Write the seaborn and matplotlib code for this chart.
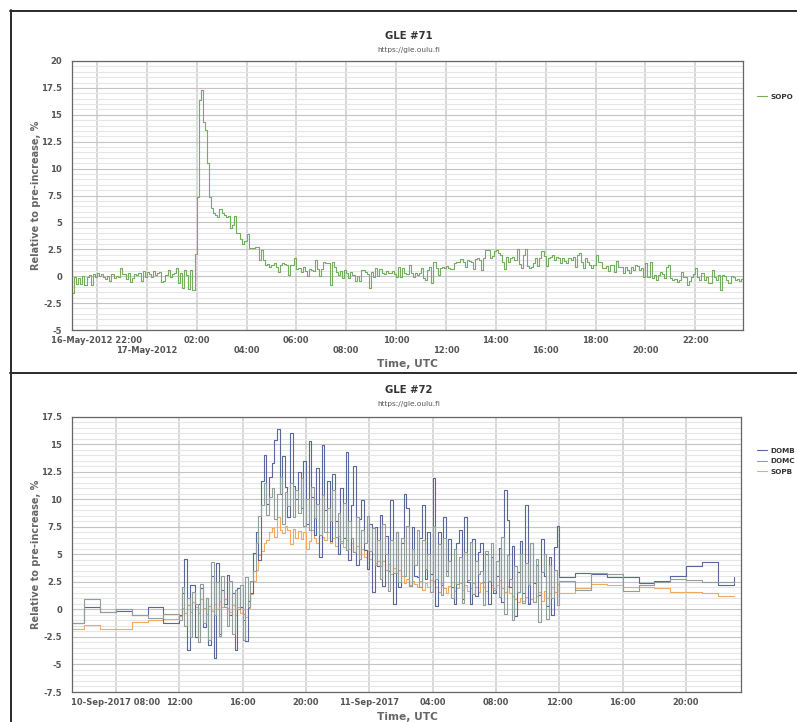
import pandas as pd
import matplotlib
matplotlib.use("Agg")
import matplotlib.pyplot as plt
from matplotlib.ticker import MultipleLocator, FuncFormatter, FixedLocator, FixedFormatter
from matplotlib.lines import Line2D
import matplotlib.dates as mdates
import seaborn as sns

# ---------------- GLE #71 : SOPO, 5-minute values from 16-May-2012 21:00 ----------------
sopo_start = "2012-05-16 21:00"
sopo_pct = [
    -1.6, -0.1, -0.7, -0.2, -0.7, 0.0, -0.8, -0.1, 0.1, -0.8, 0.2, -0.1,
    0.3, 0.0, 0.2, -0.1, -0.3, 0.0, -0.4, 0.2, -0.2, 0.0, -0.1, 0.8,
    0.2, 0.2, -0.3, 0.3, -0.5, -0.2, 0.2, 0.1, 0.3, -0.4, 0.5, -0.1,
    0.4, 0.2, -0.1, 0.5, 0.1, 0.3, 0.4, -0.5, -0.4, 0.1, 0.6, -0.1,
    0.2, 0.3, 0.8, -0.6, 0.3, -1.1, 0.6, 0.1, -1.2, 0.6, -1.3, 2.1,
    7.4, 16.4, 17.3, 14.3, 13.6, 10.5, 7.4, 6.3, 5.9, 5.7, 5.5, 6.2,
    5.9, 5.7, 5.5, 5.6, 4.5, 4.8, 5.6, 4.0, 4.0, 3.5, 3.0, 3.3,
    3.9, 2.6, 2.6, 2.6, 2.7, 2.7, 1.5, 2.4, 1.5, 1.0, 1.1, 0.9,
    1.0, 1.2, 0.9, 0.4, 1.0, 1.2, 1.1, 1.0, 0.1, 1.0, 1.0, 1.7,
    0.7, 0.8, 0.4, 0.9, 0.5, 0.0, 0.7, 0.6, 0.5, 1.5, 0.7, 0.0,
    0.7, 1.3, 1.2, 1.2, -0.8, 1.3, 0.9, 0.4, 0.1, 0.5, -0.2, 0.6,
    0.3, -0.2, 0.4, 0.1, -0.4, 0.0, -0.4, 0.6, 0.6, 0.4, 0.2, -1.1,
    0.4, -0.1, 0.8, 0.0, 0.7, 0.3, 0.2, 0.5, 0.3, 0.3, 0.5, 0.2,
    -0.05, 0.89, -0.05, 0.73, 0.27, 0.2, 1.0, 0.27, -0.05, 0.27, 0.11, 0.3,
    0.73, -0.2, -0.36, 0.58, 0.89, -0.67, 1.35, 0.73, 0.11, 0.79, 0.89, 0.8,
    0.98, 0.79, 0.67, 0.67, 1.2, 1.29, 1.29, 1.6, 1.35, 0.89, 1.5, 1.4,
    1.35, 0.67, 1.6, 1.66, 1.5, 0.58, 1.66, 2.43, 2.43, 1.66, 1.91, 2.3,
    2.4, 2.2, 2.0, 1.35, 0.7, 1.8, 1.35, 1.7, 1.8, 1.5, 2.5, 1.1,
    0.79, 1.97, 2.53, 0.98, 0.79, 0.89, 1.2, 1.72, 0.98, 1.66, 2.34, 1.91,
    0.98, 1.66, 1.81, 1.97, 1.5, 1.81, 1.66, 1.2, 1.66, 1.4, 1.2, 1.66,
    1.5, 1.81, 0.89, 1.97, 2.12, 1.35, 0.73, 1.66, 1.29, 1.0, 0.73, 1.0,
    1.97, 1.35, 1.29, 0.79, 0.73, 0.98, 0.52, 1.04, 1.04, 0.42, 1.41, 0.89,
    0.89, 0.27, 0.89, 0.58, 0.27, 0.89, 0.58, 1.04, 0.98, 0.58, 0.79, -0.05,
    1.2, -0.05, 1.29, -0.15, 0.11, -0.36, 0.11, 0.42, 0.17, -0.2, 0.89, 1.04,
    -0.2, -0.36, -0.27, -0.58, -0.36, 0.42, -0.05, -0.1, -0.82, -0.4, -0.05, 0.2,
    0.73, -0.05, -0.36, 0.27, -0.36, -0.05, -0.67, -0.67, 0.58, -0.05, -0.36, 0.1,
    -1.3, 0.11, 0.05, -0.36, -0.67, 0.05, -0.05, -0.36, -0.27, -0.45, -0.3, -0.4,
]

# ---------------- GLE #72 : DOMB, DOMC, SOPB ----------------
# hourly values 10-Sep-2017 05:00..11:00, 10-minute values 12:00..11-Sep 11:50,
# hourly values 11-Sep 12:00..23:00
early_start = "2017-09-10 05:00"
event_start = "2017-09-10 12:00"
late_start = "2017-09-11 12:00"

domb_early = [-1.2, 0.2, -0.2, -0.1, -0.5, 0.2, -1.2]
domc_early = [-1.2, 0.9, -0.2, 0.0, -0.5, -0.8, -0.4]
sopb_early = [-1.8, -1.4, -1.8, -1.8, -1.1, -1.0, -0.9]

domb_event = [
    -0.5, 1.5, 4.6, -3.7, 2.2, 2.2,
    -2.5, 0.5, 1.9, -1.6, 1.0, -3.2,
    3.0, -4.4, 4.2, -2.2, 1.8, 0.5,
    3.1, -0.5, 1.5, -3.7, 1.9, 0.2,
    -1.0, -2.9, 0.8, 1.5, 5.1, 7.0,
    4.5, 11.7, 14.0, 9.6, 12.0, 13.3,
    15.4, 16.4, 10.5, 13.9, 11.1, 8.4,
    16.0, 11.2, 10.0, 12.5, 9.2, 13.5,
    7.8, 15.3, 10.2, 6.8, 12.8, 4.8,
    14.9, 9.0, 11.7, 6.2, 12.3, 8.0,
    5.0, 11.0, 6.5, 14.3, 4.5, 9.5,
    13.0, 4.0, 8.2, 9.9, 5.4, 3.7,
    7.8, 1.6, 7.5, 3.9, 8.6, 2.1,
    6.7, 3.5, 9.9, 0.5, 7.0, 2.0,
    6.0, 10.5, 9.2, 2.1, 7.5, 3.0,
    2.9, 6.5, 9.5, 2.8, 7.0, 3.2,
    11.9, 0.3, 7.0, 2.2, 8.4, 3.5,
    6.4, 2.0, 0.5, 6.0, 7.2, 0.9,
    8.4, 2.5, 0.5, 6.4, 1.2, 5.2,
    6.0, 2.5, 5.0, 0.5, 4.8, 1.5,
    3.0, 5.6, 0.7, 10.8, 8.1, 2.0,
    5.8, -0.6, 3.4, 6.2, 1.5, 9.5,
    0.5, 6.0, 2.4, 4.0, 1.3, 6.4,
    3.0, 0.3, 4.8, -0.5, 5.7, 7.6,
]
domc_event = [
    -1.0, 2.0, -1.5, 1.0, -2.5, 1.6,
    0.5, -3.0, 2.3, -1.2, 1.0, -2.8,
    4.3, -0.5, 2.5, -2.4, 3.0, 0.2,
    -1.5, 2.6, -2.2, 1.8, 0.0, 2.2,
    -2.8, 2.9, 0.2, 2.6, 3.5, 6.0,
    8.5, 9.5, 11.5, 8.6, 10.2, 11.0,
    8.2, 10.5, 12.0, 7.8, 10.7, 9.4,
    11.5, 8.4, 10.8, 8.8, 11.9, 7.6,
    10.0, 7.2, 11.1, 8.3, 9.6, 6.8,
    10.4, 7.0, 9.2, 8.0, 10.8, 6.6,
    8.8, 6.0, 9.7, 5.4, 8.0, 6.5,
    5.2, 8.4, 4.6, 7.2, 6.0, 8.5,
    5.3, 7.4, 4.0, 6.3, 2.8, 7.8,
    5.0, 1.7, 6.3, 3.3, 7.0, 2.5,
    6.5, 3.0, 7.6, 2.1, 5.5, 4.0,
    7.2, 2.0, 6.3, 3.7, 5.0, 1.6,
    7.6, 2.8, 5.9, 1.3, 6.5, 3.0,
    4.4, 1.0, 5.5, 2.3, 4.8, 0.6,
    5.2, 2.7, 6.1, 1.4, 4.4, 3.2,
    3.5, 0.4, 5.3, 2.6, 6.0, 1.8,
    4.4, 1.1, 6.6, -0.4, 4.9, 2.8,
    -1.0, 3.9, 1.6, 5.0, 0.6, 4.2,
    2.2, 6.0, 0.7, 4.6, -1.1, 3.4,
    5.0, -0.9, 4.0, 1.0, 3.6, 0.4,
]
sopb_event = [
    -0.6, 0.1, -0.3, 0.4, -0.2, 0.7,
    0.2, -0.3, 0.9, 0.1, -0.4, 0.3,
    -0.1, 0.5, 0.0, 0.8, 0.2, 0.9,
    0.1, -0.2, 0.4, -0.5, 0.2, -0.3,
    -0.4, -0.7, 0.1, 1.4, 2.6, 3.6,
    4.9, 5.3, 6.0, 6.3, 7.0, 7.4,
    6.6, 8.4, 7.2, 6.9, 7.6, 7.2,
    5.9, 7.3, 6.5, 7.1, 6.4, 7.0,
    5.5, 6.2, 7.2, 6.5, 6.0, 6.8,
    6.6, 6.3, 7.0, 6.0, 6.5, 5.8,
    6.7, 6.2, 5.7, 6.3, 5.5, 6.0,
    5.2, 5.8, 5.0, 5.5, 4.8, 5.3,
    4.6, 5.0, 4.2, 4.4, 3.9, 4.4,
    3.6, 4.1, 3.2, 3.8, 3.3, 3.6,
    3.0, 2.4, 2.8, 2.2, 2.6, 2.3,
    2.0, 2.6, 1.8, 2.4, 2.0, 2.7,
    2.6, 2.0, 1.6, 2.4, 1.9, 1.5,
    2.1, 2.5, 1.7, 1.9, 2.4, 1.8,
    2.2, 1.7, 1.9, 2.4, 2.0, 1.6,
    2.4, 2.0, 1.7, 2.6, 2.2, 1.9,
    2.2, 2.7, 1.9, 1.6, 2.1, 1.5,
    1.2, 0.9, 0.7, 1.0, 0.8, 1.1,
    0.6, 0.9, 0.7, 1.2, 1.6, 0.8,
    1.7, 1.0, 1.5, 2.0, 1.6, 2.3,
]

domb_late = [2.9, 3.3, 3.2, 2.9, 2.9, 2.4, 2.6, 3.0, 3.95, 4.35, 2.2, 2.9]
domc_late = [2.6, 1.75, 3.3, 3.2, 1.66, 2.2, 2.5, 2.8, 2.65, 2.5, 2.5, 2.4]
sopb_late = [1.5, 1.9, 2.27, 2.2, 2.05, 2.0, 1.9, 1.6, 1.57, 1.5, 1.25, 1.25]

# tick labels: first row / second row of the GLE #71 time axis, single row for GLE #72
gle71_row1 = ["16-May-2012 22:00", "02:00", "06:00", "10:00", "14:00", "18:00", "22:00"]
gle71_row2 = ["17-May-2012", "04:00", "08:00", "12:00", "16:00", "20:00"]
gle72_ticks = ["10-Sep-2017 08:00", "12:00", "16:00", "20:00", "11-Sep-2017",
               "04:00", "08:00", "12:00", "16:00", "20:00"]

station_colors = {"SOPO": "#74ad60", "DOMB": "#5a679b", "DOMC": "#909f9b", "SOPB": "#f2a962"}

# ---------------- figure ----------------
sns.set_theme(style="white")
plt.rcParams["font.family"] = ["DejaVu Sans"]

W, H = 797, 722
fig = plt.figure(figsize=(W / 100, H / 100), dpi=100)


def fx(x):
    return x / W


def fy(y):
    return 1 - y / H


TICK_C = "#555555"
LABEL_C = "#666666"
LW = 0.8


def style_axis(ax, ymin, ymax, xlim):
    ax.set_ylim(ymin, ymax)
    ax.set_xlim(*xlim)
    ax.yaxis.set_major_locator(MultipleLocator(2.5))
    ax.yaxis.set_minor_locator(MultipleLocator(0.5))
    ax.yaxis.set_major_formatter(FuncFormatter(lambda v, p: f"{v:g}"))
    ax.grid(which="major", axis="y", color="#c4c4c4", lw=0.8)
    ax.grid(which="minor", axis="y", color="#e6e6e6", lw=0.8)
    ax.grid(which="both", axis="x", color="#d6d6d6", lw=1.3)
    ax.set_axisbelow(True)
    ax.tick_params(axis="y", which="both", length=0, pad=7, labelsize=6.1, labelcolor=TICK_C)
    ax.tick_params(axis="x", which="both", length=3, width=1, color="#d0d0d0", pad=1.5,
                   labelsize=6.0, labelcolor=TICK_C)
    for sp in ax.spines.values():
        sp.set_color("#666666")
        sp.set_linewidth(0.9)
    ax.set_xlabel("")
    ax.set_ylabel("")


def bold_labels(ax):
    for lab in (ax.get_xticklabels(which="both") + ax.get_yticklabels()):
        lab.set_fontweight("bold")


# ---- GLE #71 ----
ax1 = fig.add_axes([fx(72), fy(330), fx(743) - fx(72), fy(61) - fy(330)])
t71 = pd.date_range(sopo_start, periods=len(sopo_pct), freq="5min")
df71 = pd.DataFrame({"time": t71, "pct": sopo_pct})
sns.lineplot(data=df71, x="time", y="pct", ax=ax1, color=station_colors["SOPO"],
             drawstyle="steps-post", estimator=None, linewidth=LW)
style_axis(ax1, -5, 20, (pd.Timestamp("2012-05-16 21:00"), pd.Timestamp("2012-05-17 23:55")))
row1_times = pd.date_range("2012-05-16 22:00", "2012-05-17 22:00", freq="4h")
row2_times = pd.date_range("2012-05-17 00:00", "2012-05-17 20:00", freq="4h")
ax1.xaxis.set_major_locator(FixedLocator(mdates.date2num(row1_times)))
ax1.xaxis.set_major_formatter(FixedFormatter(gle71_row1))
ax1.xaxis.set_minor_locator(FixedLocator(mdates.date2num(row2_times)))
ax1.xaxis.set_minor_formatter(FixedFormatter(gle71_row2))
ax1.tick_params(axis="x", which="minor", pad=8.7)
bold_labels(ax1)

# ---- GLE #72 ----
ax2 = fig.add_axes([fx(72), fy(692), fx(741) - fx(72), fy(416.7) - fy(692)])
t72 = (list(pd.date_range(early_start, periods=len(domb_early), freq="1h"))
       + list(pd.date_range(event_start, periods=len(domb_event), freq="10min"))
       + list(pd.date_range(late_start, periods=len(domb_late), freq="1h")))
series72 = {
    "SOPB": sopb_early + sopb_event + sopb_late,
    "DOMB": domb_early + domb_event + domb_late,
    "DOMC": domc_early + domc_event + domc_late,
}
for name, vals in series72.items():
    d = pd.DataFrame({"time": t72, "pct": vals})
    sns.lineplot(data=d, x="time", y="pct", ax=ax2, color=station_colors[name],
                 drawstyle="steps-post", estimator=None, linewidth=LW)
style_axis(ax2, -7.5, 17.5, (pd.Timestamp("2017-09-10 05:14"), pd.Timestamp("2017-09-11 23:28")))
ax2.xaxis.set_major_locator(FixedLocator(mdates.date2num(
    pd.date_range("2017-09-10 08:00", "2017-09-11 20:00", freq="4h"))))
ax2.xaxis.set_major_formatter(FixedFormatter(gle72_ticks))
ax2.xaxis.set_minor_locator(FixedLocator([]))
bold_labels(ax2)

# ---- titles, axis labels ----
for (ty, sy, title) in [(36, 50, "GLE #71"), (390, 404, "GLE #72")]:
    fig.text(fx(409), fy(ty), title, ha="center", va="center", fontsize=7.3,
             fontweight="bold", color="#333333")
    fig.text(fx(409), fy(sy), "https://gle.oulu.fi", ha="center", va="center",
             fontsize=5.3, color="#555555")

for (cy, xy) in [(195.5, 364), (554.5, 716.5)]:
    fig.text(fx(36.5), fy(cy), "Relative to pre-increase, %", rotation=90, ha="center",
             va="center", fontsize=7.0, fontweight="bold", color=LABEL_C)
    fig.text(fx(407), fy(xy), "Time, UTC", ha="center", va="center", fontsize=7.7,
             fontweight="bold", color=LABEL_C)


# ---- legends ----
def station_legend(names, top_px):
    handles = [Line2D([], [], color=station_colors[n], lw=LW) for n in names]
    leg = fig.legend(handles, names, loc="upper left",
                     bbox_to_anchor=(fx(757), fy(top_px)), frameon=False,
                     fontsize=5.2, handlelength=1.4, handletextpad=0.5,
                     labelspacing=0.62, borderpad=0, borderaxespad=0)
    for t in leg.get_texts():
        t.set_fontweight("bold")
        t.set_color("#333333")


station_legend(["SOPO"], 93.5)
station_legend(["DOMB", "DOMC", "SOPB"], 447.5)

# ---- panel frames ----
frame_kw = dict(color="#2a2a2a", lw=1.4, transform=fig.transFigure)
fig.add_artist(Line2D([fx(10), fx(W)], [fy(10.5), fy(10.5)], **frame_kw))
fig.add_artist(Line2D([fx(10.5), fx(10.5)], [fy(10), fy(H)], **frame_kw))
fig.add_artist(Line2D([fx(10), fx(W)], [fy(372.5), fy(372.5)], **frame_kw))

fig.savefig("out.png", dpi=100)
